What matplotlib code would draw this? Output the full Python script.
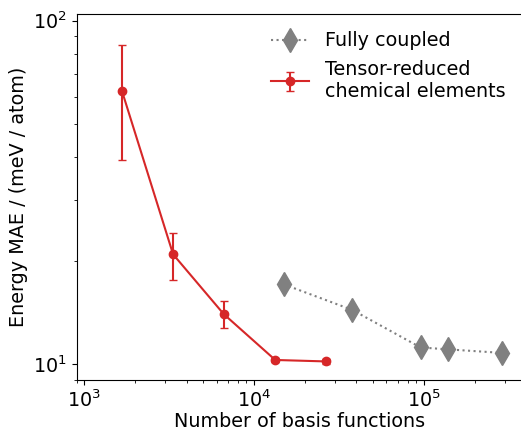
import matplotlib

matplotlib.use("Agg")
import matplotlib.pyplot as plt  # noqa: E402

# fully coupled basis
full_n = [14900, 37800, 95400, 138000, 288000]
full_mae = [17.1, 14.4, 11.2, 11.06, 10.8]

# tensor-reduced chemical elements
red_n = [1667, 3330, 6620, 13300, 26500]
red_mae = [62.3, 20.9, 14.0, 10.3, 10.2]
red_err_lo = [23.0, 3.3, 1.2, 0.15, 0.2]
red_err_hi = [22.8, 3.2, 1.3, 0.15, 0.2]

plt.rcParams["font.size"] = 13.8

fig = plt.figure(figsize=(5.21, 4.30), dpi=100)
ax = fig.add_axes([0.147, 0.116, 0.856, 0.851])

ax.plot(full_n, full_mae, linestyle=":", marker="d", color="gray",
        markersize=12, linewidth=1.5, label="Fully coupled")
ax.errorbar(red_n, red_mae, yerr=[red_err_lo, red_err_hi], color="#d62728",
            marker="o", markersize=6, linewidth=1.5, capsize=3,
            label="Tensor-reduced\nchemical elements")

ax.set_xscale("log")
ax.set_yscale("log")
ax.set_xlim(900, 3.8e5)
ax.set_ylim(9.0, 104.4)
ax.set_xlabel("Number of basis functions", labelpad=0.5)
ax.set_ylabel("Energy MAE / (meV / atom)")
ax.legend(loc="upper right", frameon=False, fontsize=13.8)

fig.savefig("out.png", dpi=100)
